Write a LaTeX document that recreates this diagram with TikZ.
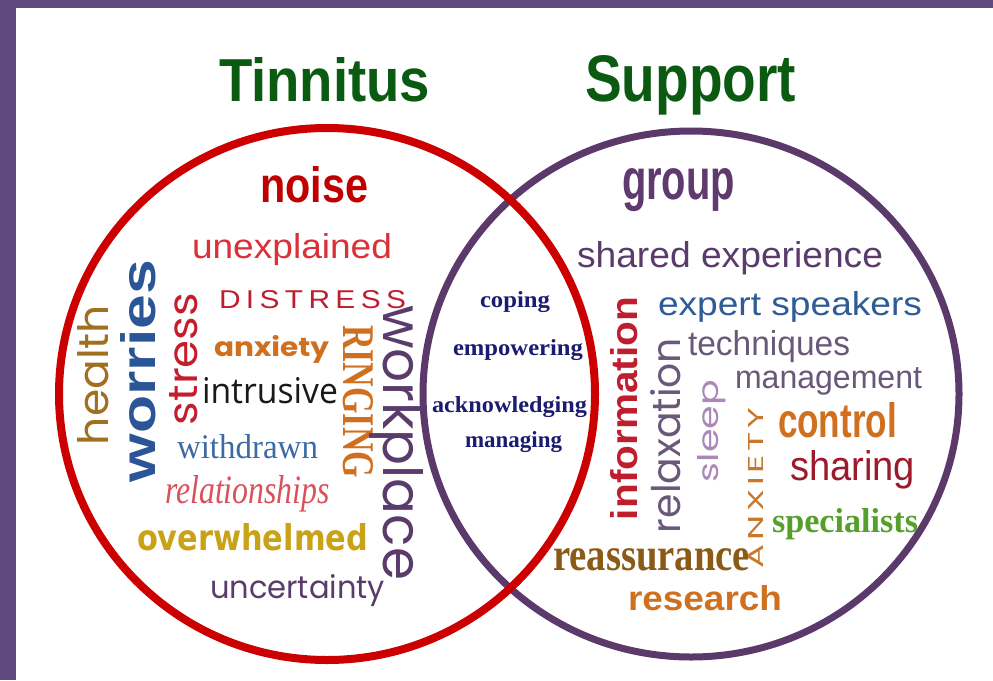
\documentclass[tikz,border=0pt]{standalone}
\usepackage{graphicx}
\usepackage{fontspec}
\setmainfont{Liberation Sans}
\newfontfamily\fPop{Poppins}
\newfontfamily\fDV{DejaVu Sans}
\newfontfamily\fSerif{Liberation Serif}
\newfontfamily\fOpen{Open Sans}
\newfontfamily\fSpaced[LetterSpace=18]{Liberation Sans}
\newfontfamily\fPopSp[LetterSpace=10]{Poppins}
\newcommand\fitbox[3]{\resizebox{#1pt}{#2pt}{#3}}
\definecolor{bordercol}{RGB}{94,74,126}
\definecolor{titlegreen}{RGB}{11,90,18}
\definecolor{redring}{RGB}{204,0,0}
\definecolor{purplering}{RGB}{91,58,107}
\definecolor{cNoise}{RGB}{192,0,0}
\definecolor{cGroup}{RGB}{94,58,110}
\definecolor{cUnexp}{RGB}{218,49,57}
\definecolor{cDistress}{RGB}{191,30,46}
\definecolor{cOrange}{RGB}{208,112,30}
\definecolor{cBlue}{RGB}{60,106,165}
\definecolor{cRel}{RGB}{216,82,92}
\definecolor{cGold}{RGB}{201,162,24}
\definecolor{cPurple}{RGB}{90,60,108}
\definecolor{cHealth}{RGB}{160,112,32}
\definecolor{cWorries}{RGB}{43,85,151}
\definecolor{cStress}{RGB}{196,30,46}
\definecolor{cNavy}{RGB}{27,27,112}
\definecolor{cExpert}{RGB}{46,92,150}
\definecolor{cGrey}{RGB}{106,88,120}
\definecolor{cSharing}{RGB}{156,26,43}
\definecolor{cGreen}{RGB}{85,160,42}
\definecolor{cBrown}{RGB}{138,90,22}
\definecolor{cInfo}{RGB}{190,30,45}
\definecolor{cSleep}{RGB}{170,136,184}
\definecolor{cAnx}{RGB}{200,120,42}
\tikzset{wd/.style={inner sep=0pt, outer sep=0pt, anchor=base west}}
\begin{document}
\begin{tikzpicture}[x=1pt,y=-1pt]
\useasboundingbox (0,0) rectangle (993,680);
\fill[white] (0,0) rectangle (993,680);
\fill[bordercol] (0,0) rectangle (16,680);
\fill[bordercol] (0,0) rectangle (993,8);
% circles
\draw[purplering, line width=7pt] (691,394) ellipse [x radius=268, y radius=263];
\draw[redring, line width=8pt] (327,394) ellipse [x radius=268, y radius=266];
% titles
\node[wd, text=titlegreen] (tinn) at (219,101) {\fitbox{211}{44}{\bfseries Tinnitus}};
\node[wd, text=titlegreen] (supp) at (585,101) {\fitbox{211}{46}{\bfseries Support}};
% left circle
\node[wd, text=cNoise] (noise) at (260,202) {\fitbox{108}{36}{\bfseries noise}};
\node[wd, text=cUnexp] (unexp) at (192,258) {\fitbox{200}{25}{unexplained}};
\node[wd, text=cDistress] (distress) at (219,308) {\fitbox{187}{18}{\fSpaced DISTRESS}};
\node[wd, text=cOrange] (anxiety) at (214,356) {\fitbox{115}{21}{\fPop\bfseries anxiety}};
\node[wd, text=black!90] (intrusive) at (202,403) {\fitbox{136}{26}{\fOpen intrusive}};
\node[wd, text=cBlue] (withdrawn) at (177,458) {\fitbox{141}{24}{\fSerif withdrawn}};
\node[wd, text=cRel] (relations) at (165,503) {\fitbox{165}{28}{\fSerif\itshape relationships}};
\node[wd, text=cGold] (overwhelmed) at (137,550) {\fitbox{231}{27}{\fDV\bfseries overwhelmed}};
\node[wd, text=cPurple] (uncertainty) at (210,598) {\fitbox{175}{24}{\fPop uncertainty}};
\node[wd, text=cHealth, rotate=90] (health) at (108,445) {\fitbox{140}{31}{\fPop health}};
\node[wd, text=cWorries, rotate=90] (worries) at (155,482) {\fitbox{222}{35}{\bfseries worries}};
\node[wd, text=cStress, rotate=90] (stress) at (197,425) {\fitbox{132}{28}{\fPop stress}};
\node[wd, text=cOrange, rotate=-90] (ringing) at (343,325) {\fitbox{153}{30}{\fSerif\bfseries RINGING}};
\node[wd, text=cPurple, rotate=-90] (workplace) at (383,305) {\fitbox{275}{40}{\fPop workplace}};
% intersection
\node[wd, text=cNavy] (coping) at (480,307) {\fitbox{70}{16}{\fSerif\bfseries coping}};
\node[wd, text=cNavy] (empowering) at (453,355) {\fitbox{130}{16}{\fSerif\bfseries empowering}};
\node[wd, text=cNavy] (acknowledging) at (432,412) {\fitbox{155}{16}{\fSerif\bfseries acknowledging}};
\node[wd, text=cNavy] (managing) at (465,447) {\fitbox{97}{16}{\fSerif\bfseries managing}};
% right circle
\node[wd, text=cGroup] (group) at (622,199) {\fitbox{113}{31}{\bfseries group}};
\node[wd, text=cPurple] (shared) at (577,267) {\fitbox{306}{26}{shared experience}};
\node[wd, text=cExpert] (expert) at (658,315) {\fitbox{264}{24}{expert speakers}};
\node[wd, text=cGrey] (techniques) at (688,355) {\fitbox{162}{25}{techniques}};
\node[wd, text=cGrey] (management) at (735,388) {\fitbox{187}{21}{management}};
\node[wd, text=cOrange] (control) at (778,437) {\fitbox{119}{35}{\bfseries control}};
\node[wd, text=cSharing] (sharing) at (790,480) {\fitbox{125}{30}{sharing}};
\node[wd, text=cGreen] (specialists) at (772,532) {\fitbox{146}{24}{\fSerif\bfseries specialists}};
\node[wd, text=cBrown] (reassurance) at (553,570) {\fitbox{197}{22}{\fSerif\bfseries reassurance}};
\node[wd, text=cOrange] (research) at (628,610) {\fitbox{154}{25}{\bfseries research}};
\node[wd, text=cInfo, rotate=90] (information) at (637,520) {\fitbox{223}{27}{\bfseries information}};
\node[wd, text=cGrey, rotate=90] (relaxation) at (680,533) {\fitbox{195}{30}{\fPop relaxation}};
\node[wd, text=cSleep, rotate=90] (sleep) at (718,482) {\fitbox{102}{21}{\fPop sleep}};
\node[wd, text=cAnx, rotate=90] (anx) at (763,568) {\fitbox{160}{15}{\fPopSp ANXIETY}};
\end{tikzpicture}
\end{document}
